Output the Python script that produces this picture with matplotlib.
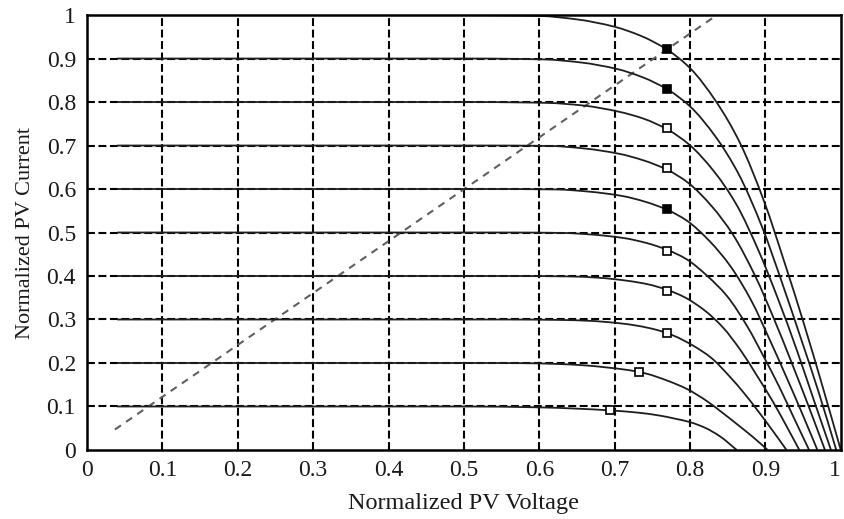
import matplotlib
matplotlib.use("Agg")
import matplotlib.pyplot as plt
import matplotlib.transforms as mtransforms
from matplotlib.path import Path
from matplotlib.patches import PathPatch

# Normalized irradiance levels (short-circuit current of each curve)
irradiance = [0.1, 0.2, 0.3, 0.4, 0.5, 0.6, 0.7, 0.8, 0.9, 1.0]

# I-V curves, one (voltage, current) list pair per irradiance level
v_g01 = [0.04, 0.5, 0.6, 0.65, 0.694, 0.73, 0.76, 0.78, 0.80, 0.82, 0.84, 0.862]
i_g01 = [0.1, 0.1, 0.098, 0.095, 0.091, 0.086, 0.079, 0.072, 0.064, 0.051, 0.031, 0.0]

v_g02 = [0.04, 0.498, 0.579, 0.620, 0.660, 0.688, 0.717, 0.741, 0.769, 0.795, 0.821, 0.842, 0.864, 0.884, 0.903]
i_g02 = [0.2, 0.2, 0.1996, 0.198, 0.1946, 0.190, 0.184, 0.176, 0.16, 0.141, 0.114, 0.087, 0.057, 0.029, 0.0]

v_g03 = [0.04, 0.553, 0.628, 0.666, 0.703, 0.729, 0.756, 0.778, 0.804, 0.828, 0.852, 0.872, 0.892, 0.910, 0.928]
i_g03 = [0.3, 0.3, 0.299, 0.297, 0.292, 0.286, 0.276, 0.263, 0.24, 0.212, 0.170, 0.130, 0.0855, 0.0435, 0.0]

v_g04 = [0.04, 0.565, 0.641, 0.679, 0.717, 0.744, 0.770, 0.793, 0.820, 0.843, 0.868, 0.888, 0.909, 0.927, 0.945]
i_g04 = [0.4, 0.4, 0.399, 0.396, 0.389, 0.381, 0.368, 0.351, 0.32, 0.283, 0.227, 0.173, 0.114, 0.058, 0.0]

v_g05 = [0.04, 0.550, 0.631, 0.672, 0.713, 0.742, 0.770, 0.795, 0.823, 0.849, 0.876, 0.897, 0.919, 0.938, 0.958]
i_g05 = [0.5, 0.5, 0.499, 0.495, 0.487, 0.476, 0.46, 0.439, 0.4, 0.354, 0.284, 0.217, 0.143, 0.073, 0.0]

v_g06 = [0.04, 0.537, 0.623, 0.666, 0.710, 0.740, 0.770, 0.796, 0.826, 0.853, 0.882, 0.904, 0.927, 0.948, 0.969]
i_g06 = [0.6, 0.6, 0.599, 0.594, 0.584, 0.571, 0.552, 0.527, 0.48, 0.424, 0.341, 0.26, 0.171, 0.087, 0.0]

v_g07 = [0.04, 0.524, 0.615, 0.661, 0.706, 0.738, 0.770, 0.797, 0.829, 0.857, 0.887, 0.911, 0.935, 0.957, 0.979]
i_g07 = [0.7, 0.7, 0.699, 0.693, 0.681, 0.666, 0.644, 0.615, 0.56, 0.495, 0.398, 0.303, 0.2, 0.102, 0.0]

v_g08 = [0.04, 0.517, 0.611, 0.658, 0.705, 0.738, 0.771, 0.799, 0.832, 0.861, 0.892, 0.917, 0.942, 0.964, 0.987]
i_g08 = [0.8, 0.8, 0.798, 0.792, 0.778, 0.762, 0.736, 0.702, 0.64, 0.566, 0.454, 0.346, 0.228, 0.116, 0.0]

v_g09 = [0.04, 0.509, 0.606, 0.655, 0.703, 0.737, 0.771, 0.800, 0.834, 0.864, 0.896, 0.921, 0.947, 0.971, 0.994]
i_g09 = [0.9, 0.9, 0.898, 0.891, 0.876, 0.857, 0.828, 0.790, 0.72, 0.636, 0.511, 0.390, 0.257, 0.131, 0.0]

v_g10 = [0.04, 0.5, 0.6, 0.65, 0.7, 0.735, 0.77, 0.8, 0.835, 0.866, 0.899, 0.925, 0.952, 0.976, 1.0]
i_g10 = [1.0, 1.0, 0.998, 0.99, 0.973, 0.952, 0.92, 0.878, 0.8, 0.707, 0.568, 0.433, 0.285, 0.145, 0.0]

# Maximum power points
mpp_v = [0.694, 0.732, 0.77, 0.77, 0.77, 0.77, 0.77, 0.77, 0.77, 0.77]
mpp_i = [0.091, 0.180, 0.268, 0.366, 0.458, 0.554, 0.648, 0.741, 0.831, 0.921]
mpp_filled = [False, False, False, False, False, True, False, False, True, True]

# Straight dashed line through the maximum power region
line_v = [0.037, 0.839]
line_i = [0.047, 1.004]

x_ticks = [0, 0.1, 0.2, 0.3, 0.4, 0.5, 0.6, 0.7, 0.8, 0.9, 1]
x_tick_labels = ["0", "0.1", "0.2", "0.3", "0.4", "0.5", "0.6", "0.7", "0.8", "0.9", "1"]
y_ticks = [0, 0.1, 0.2, 0.3, 0.4, 0.5, 0.6, 0.7, 0.8, 0.9, 1]
y_tick_labels = ["0", "0.1", "0.2", "0.3", "0.4", "0.5", "0.6", "0.7", "0.8", "0.9", "1"]

curves = [(v_g01, i_g01), (v_g02, i_g02), (v_g03, i_g03), (v_g04, i_g04),
          (v_g05, i_g05), (v_g06, i_g06), (v_g07, i_g07), (v_g08, i_g08),
          (v_g09, i_g09), (v_g10, i_g10)]


def smooth_path(xs, ys):
    """Monotone cubic (Fritsch-Butland) Bezier path through the given points."""
    n = len(xs)
    h = [xs[k + 1] - xs[k] for k in range(n - 1)]
    d = [(ys[k + 1] - ys[k]) / h[k] for k in range(n - 1)]
    m = [0.0] * n
    m[0] = d[0]
    m[-1] = d[-1]
    for k in range(1, n - 1):
        if d[k - 1] * d[k] <= 0:
            m[k] = 0.0
        else:
            w1 = 2 * h[k] + h[k - 1]
            w2 = h[k] + 2 * h[k - 1]
            m[k] = (w1 + w2) / (w1 / d[k - 1] + w2 / d[k])
    verts = [(xs[0], ys[0])]
    codes = [Path.MOVETO]
    for k in range(n - 1):
        verts += [(xs[k] + h[k] / 3, ys[k] + m[k] * h[k] / 3),
                  (xs[k + 1] - h[k] / 3, ys[k + 1] - m[k + 1] * h[k] / 3),
                  (xs[k + 1], ys[k + 1])]
        codes += [Path.CURVE4] * 3
    return Path(verts, codes)


plt.rcParams["font.family"] = ["Liberation Serif", "DejaVu Serif"]

fig = plt.figure(figsize=(8.45, 5.19), dpi=100)
ax = fig.add_axes([0.103, 0.133, 0.892, 0.838])

ax.set_xlim(0, 1)
ax.set_ylim(0, 1)

# dashed grid
for t in x_ticks[1:-1]:
    ax.axvline(t, color="black", lw=1.5, dashes=(3.8, 1.7), zorder=1)
for t in y_ticks[1:-1]:
    ax.axhline(t, color="black", lw=1.5, dashes=(3.8, 1.7), zorder=1)

for v, i in curves:
    ax.add_patch(PathPatch(smooth_path(v, i), fill=False, edgecolor="#1e1e1e",
                           lw=1.3, zorder=3, joinstyle="round"))

ax.plot(line_v, line_i, color="#606060", lw=1.5, dashes=(3.5, 3.0), zorder=2)

for v, i, filled in zip(mpp_v, mpp_i, mpp_filled):
    ax.plot([v], [i], marker="s", ms=6, mec="black", mew=1.2,
            mfc="black" if filled else "white", zorder=4)

ax.set_xticks(x_ticks)
ax.set_xticklabels(x_tick_labels)
ax.set_yticks(y_ticks)
ax.set_yticklabels(y_tick_labels)
ax.tick_params(length=0, labelsize=17, pad=7, colors="#1a1a1a")
ax.tick_params(axis="y", pad=8)

# keep the last x label inside the figure edge
last = ax.get_xticklabels()[-1]
last.set_transform(last.get_transform()
                   + mtransforms.ScaledTranslation(-4 / 72, 0, fig.dpi_scale_trans))

for s in ax.spines.values():
    s.set_linewidth(1.8)
    s.set_color("black")
    s.set_zorder(5)

ax.set_xlabel("Normalized PV Voltage", fontsize=17.5, labelpad=9, color="#1a1a1a")
ax.set_ylabel("Normalized PV Current", fontsize=16, labelpad=8, color="#1a1a1a")

fig.savefig("out.png", dpi=100)
